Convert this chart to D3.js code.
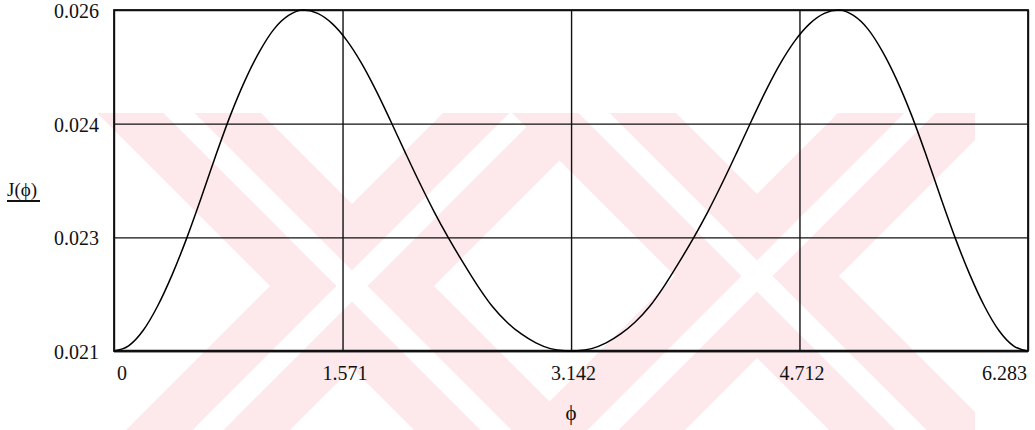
<!DOCTYPE html>
<html><head><meta charset="utf-8">
<script src="https://cdn.jsdelivr.net/npm/d3@7"></script>
<style>body{margin:0;background:#fff}svg{display:block}</style>
</head><body>
<svg id="c" width="1035" height="430"></svg>
<script>
// data
const phi = [0, 0.1, 0.2, 0.3, 0.4, 0.5, 0.6, 0.7, 0.8, 0.9, 1.0, 1.1, 1.2, 1.3, 1.4, 1.5, 1.6, 1.7, 1.8, 1.9, 2.0,
             2.1, 2.2, 2.3, 2.4, 2.5, 2.6, 2.7, 2.8, 2.9, 3.0, 3.1, 3.142,
             3.183, 3.283, 3.383, 3.483, 3.583, 3.683, 3.783, 3.883, 3.983, 4.083, 4.183, 4.283, 4.383, 4.483, 4.583, 4.683,
             4.783, 4.883, 4.983, 5.083, 5.183, 5.283, 5.383, 5.483, 5.583, 5.683, 5.783, 5.883, 5.983, 6.083, 6.183, 6.283];
const J = [0.021000, 0.021075, 0.021300, 0.021660, 0.022120, 0.022655, 0.023250, 0.023870, 0.024455, 0.024965, 0.025390,
           0.025720, 0.025920, 0.026000, 0.025950, 0.025800, 0.025555, 0.025225, 0.024825, 0.024380, 0.023920,
           0.023470, 0.023045, 0.022655, 0.022295, 0.021955, 0.021655, 0.021425, 0.021250, 0.021120, 0.021035, 0.021003, 0.021000,
           0.021003, 0.021035, 0.021120, 0.021250, 0.021425, 0.021655, 0.021955, 0.022295, 0.022655, 0.023045, 0.023470, 0.023920,
           0.024380, 0.024825, 0.025225, 0.025555, 0.025800, 0.025950, 0.026000, 0.025920, 0.025720, 0.025390, 0.024965, 0.024455,
           0.023870, 0.023250, 0.022655, 0.022120, 0.021660, 0.021300, 0.021075, 0.021000];
const xTicks = [0, 1.571, 3.142, 4.712, 6.283];
const xTickLabels = ["0", "1.571", "3.142", "4.712", "6.283"];
const yTicks = [0.021, 0.0226667, 0.0243333, 0.026];
const yTickLabels = ["0.021", "0.023", "0.024", "0.026"];
const yTitle = "J(\u03D5)";
const xTitle = "\u03D5";

const svg = d3.select("#c");
const L = 114, R = 1028, T = 10, B = 351;
const x = d3.scaleLinear().domain([0, 6.283]).range([L, R]);
const y = d3.scaleLinear().domain([0.021, 0.026]).range([B, T]);
const font = "'Liberation Serif','Times New Roman',serif";

// faint background watermark (two large striped X shapes)
const defs = svg.append("defs");
defs.append("clipPath").attr("id", "wm").append("rect")
  .attr("x", 30).attr("y", 113).attr("width", 945).attr("height", 317);
const wm = svg.append("g").attr("clip-path", "url(#wm)");
const bandW = 116, gapW = 22;
[[352, 286], [757, 276]].forEach(([cx, cy]) => {
  [45, -45].forEach(a => {
    wm.append("g").attr("transform", `translate(${cx},${cy}) rotate(${a})`)
      .append("rect").attr("x", -450).attr("y", -bandW / 2).attr("width", 900).attr("height", bandW).attr("fill", "#fde8ec");
  });
  [45, -45].forEach(a => {
    wm.append("g").attr("transform", `translate(${cx},${cy}) rotate(${a})`)
      .append("rect").attr("x", -450).attr("y", -gapW / 2).attr("width", 900).attr("height", gapW).attr("fill", "#fff");
  });
});

// grid
const gx = svg.append("g").attr("transform", `translate(0,${B})`)
  .call(d3.axisBottom(x).tickValues(xTicks).tickSize(-(B - T)).tickFormat(""));
gx.select(".domain").remove();
gx.selectAll("line").attr("stroke", "#111").attr("stroke-width", 1.4);
const gy = svg.append("g").attr("transform", `translate(${L},0)`)
  .call(d3.axisLeft(y).tickValues(yTicks).tickSize(-(R - L)).tickFormat(""));
gy.select(".domain").remove();
gy.selectAll("line").attr("stroke", "#111").attr("stroke-width", 1.4);

// frame
svg.append("rect").attr("x", L).attr("y", T).attr("width", R - L).attr("height", B - T)
  .attr("fill", "none").attr("stroke", "#111").attr("stroke-width", 1.8);
svg.append("line").attr("x1", L).attr("x2", R).attr("y1", B).attr("y2", B)
  .attr("stroke", "#111").attr("stroke-width", 2.4);

// curve
const line = d3.line().x((d, i) => x(phi[i])).y(d => y(d)).curve(d3.curveMonotoneX);
svg.append("path").datum(J).attr("d", line).attr("fill", "none")
  .attr("stroke", "#000").attr("stroke-width", 1.5).attr("stroke-linejoin", "round");

// x tick labels
svg.append("g").selectAll("text").data(xTicks).join("text")
  .attr("x", (d, i) => i === 0 ? x(d) + 3 : i === xTicks.length - 1 ? x(d) - 1 : x(d) + 2.5)
  .attr("y", 380)
  .attr("text-anchor", (d, i) => i === 0 ? "start" : i === xTicks.length - 1 ? "end" : "middle")
  .attr("font-family", font).attr("font-size", 20).attr("fill", "#111")
  .text((d, i) => xTickLabels[i]);

// y tick labels
svg.append("g").selectAll("text").data(yTicks).join("text")
  .attr("x", 99).attr("y", d => y(d) + 8)
  .attr("text-anchor", "end")
  .attr("font-family", font).attr("font-size", 20).attr("fill", "#111")
  .text((d, i) => yTickLabels[i]);

// titles
svg.append("text").attr("x", 7).attr("y", 196).attr("font-family", font).attr("font-size", 19)
  .attr("fill", "#111").text(yTitle);
svg.append("line").attr("x1", 7).attr("x2", 40).attr("y1", 201).attr("y2", 201)
  .attr("stroke", "#111").attr("stroke-width", 2);
svg.append("text").attr("x", 571).attr("y", 420).attr("text-anchor", "middle")
  .attr("font-family", font).attr("font-size", 21).attr("fill", "#111").text(xTitle);
</script>
</body></html>
